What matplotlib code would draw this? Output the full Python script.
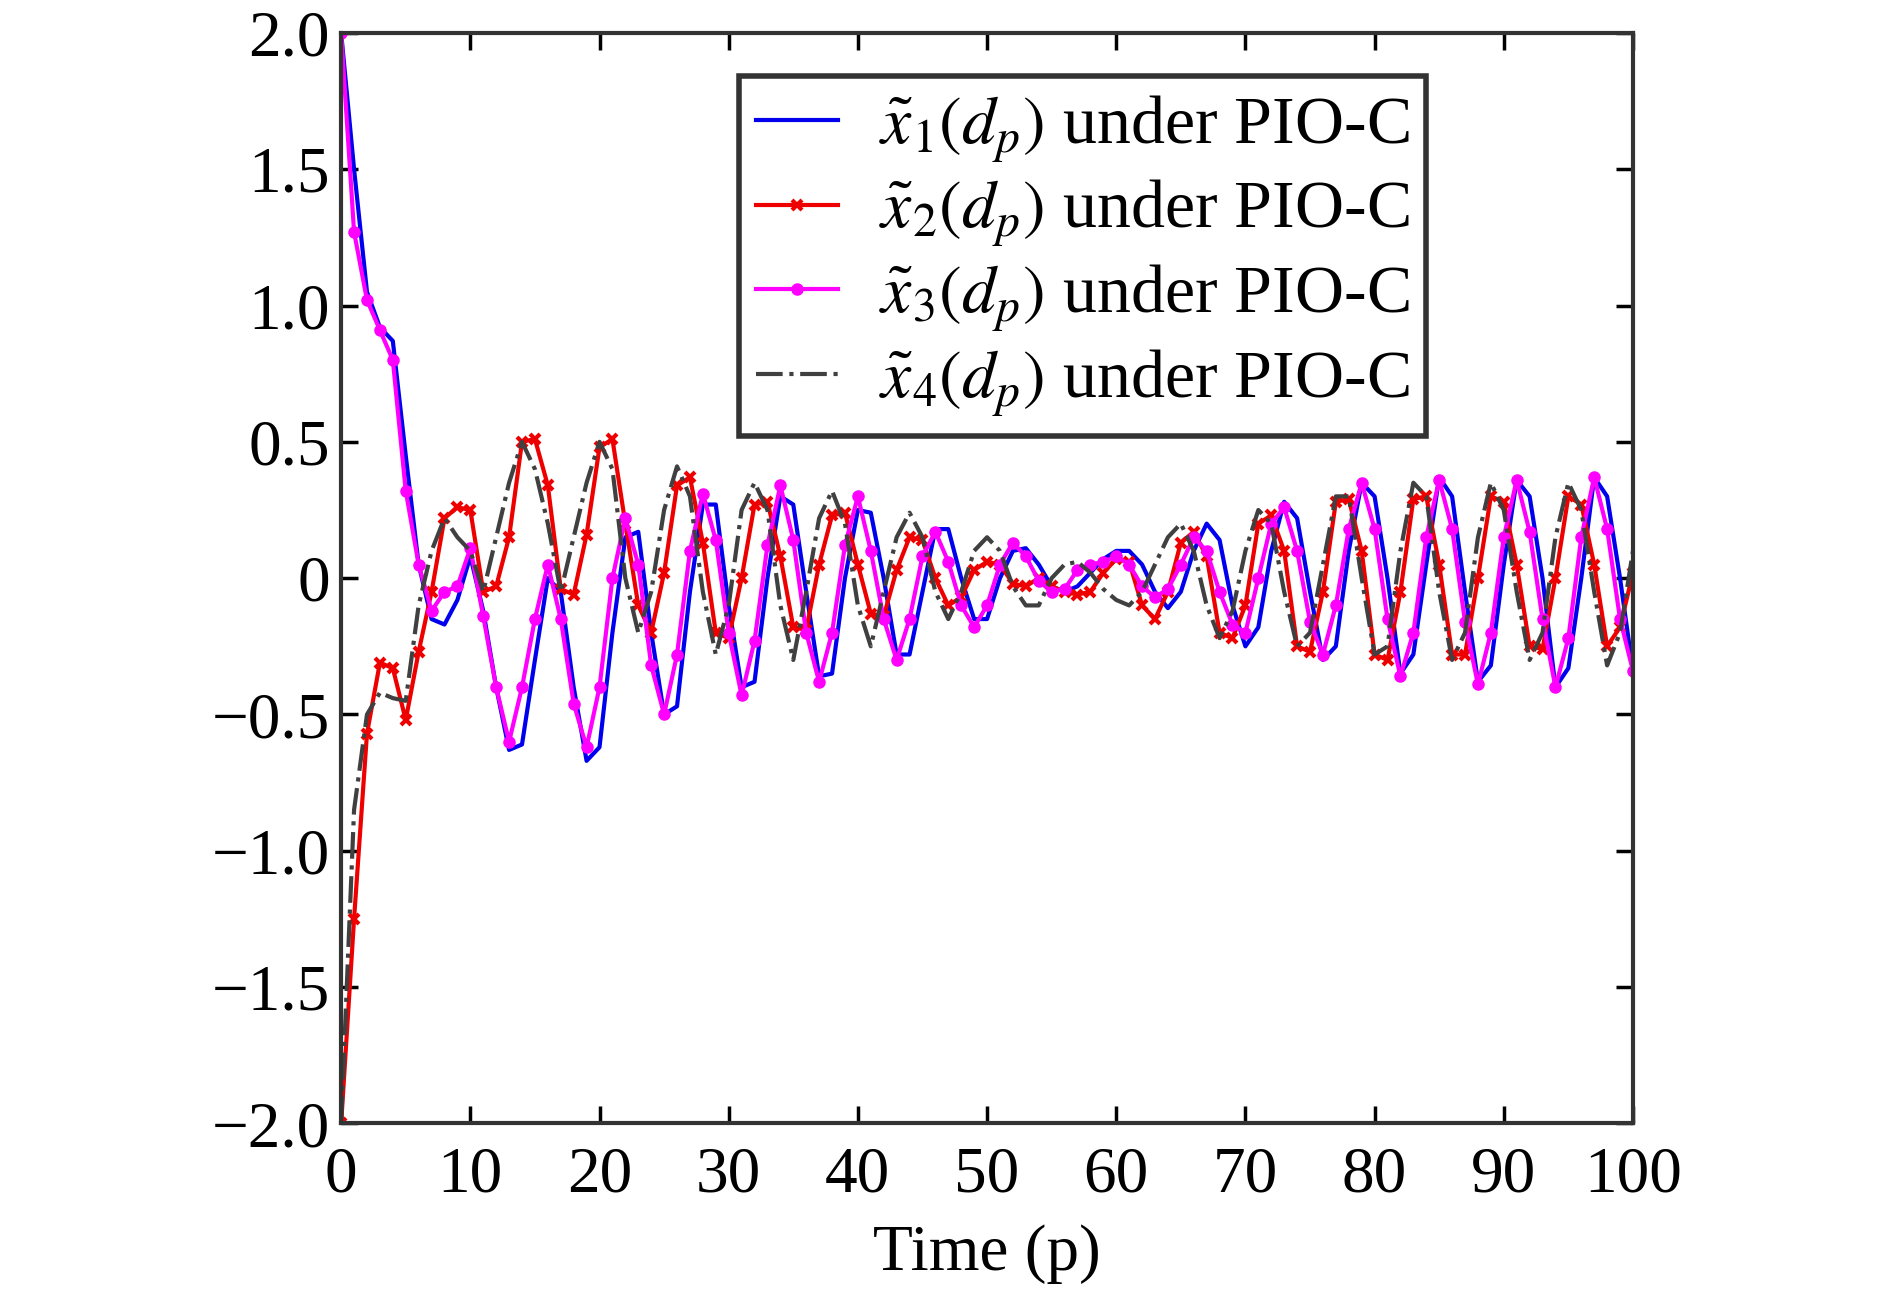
import numpy as np
import matplotlib.pyplot as plt

p = np.arange(0, 101)

x1 = [2.0, 1.5, 1.05, 0.92, 0.87, 0.45, 0.05, -0.15, -0.17, -0.08, 0.08, -0.12, -0.40, -0.63, -0.61, -0.30, 0.0, -0.05, -0.40, -0.67,
      -0.62, -0.20, 0.15, 0.17, -0.20, -0.50, -0.47, -0.05, 0.27, 0.27, -0.10, -0.40, -0.38, 0.0, 0.30, 0.27, -0.05, -0.36, -0.35, 0.0,
      0.25, 0.24, 0.0, -0.28, -0.28, -0.05, 0.18, 0.18, 0.0, -0.15, -0.15, 0.0, 0.10, 0.11, 0.05, -0.03, -0.05, -0.03, 0.02, 0.07,
      0.10, 0.10, 0.05, -0.05, -0.11, -0.05, 0.10, 0.20, 0.14, -0.10, -0.25, -0.18, 0.10, 0.28, 0.22, -0.05, -0.30, -0.25, 0.10, 0.35,
      0.30, 0.0, -0.35, -0.28, 0.05, 0.37, 0.30, -0.05, -0.38, -0.32, 0.05, 0.36, 0.30, 0.0, -0.40, -0.33, 0.0, 0.37, 0.30, 0.0, -0.34]
x2 = [-2.0, -1.25, -0.57, -0.31, -0.33, -0.52, -0.27, -0.05, 0.22, 0.26, 0.25, -0.05, -0.03, 0.15, 0.50, 0.51, 0.34, -0.04, -0.06, 0.16,
      0.48, 0.51, 0.20, -0.10, -0.20, 0.02, 0.34, 0.37, 0.13, -0.20, -0.22, 0.0, 0.27, 0.28, 0.08, -0.18, -0.19, 0.05, 0.23, 0.24,
      0.05, -0.13, -0.14, 0.03, 0.15, 0.14, 0.0, -0.10, -0.07, 0.03, 0.06, 0.05, -0.02, -0.03, 0.0, -0.03, -0.05, -0.06, -0.05, 0.02,
      0.07, 0.06, -0.10, -0.15, -0.05, 0.13, 0.17, 0.08, -0.20, -0.22, -0.10, 0.20, 0.23, 0.10, -0.25, -0.27, -0.05, 0.28, 0.29, 0.10,
      -0.28, -0.30, -0.05, 0.29, 0.30, 0.05, -0.28, -0.28, 0.0, 0.30, 0.28, 0.05, -0.25, -0.26, 0.0, 0.30, 0.27, 0.05, -0.25, -0.18, 0.02]
x3 = [2.0, 1.27, 1.02, 0.91, 0.80, 0.32, 0.05, -0.12, -0.05, -0.03, 0.11, -0.14, -0.40, -0.60, -0.40, -0.15, 0.05, -0.15, -0.46, -0.62,
      -0.40, 0.0, 0.22, 0.05, -0.32, -0.50, -0.28, 0.10, 0.31, 0.14, -0.20, -0.43, -0.23, 0.12, 0.34, 0.14, -0.20, -0.38, -0.20, 0.12,
      0.30, 0.10, -0.15, -0.30, -0.15, 0.08, 0.17, 0.06, -0.10, -0.18, -0.10, 0.05, 0.13, 0.08, -0.01, -0.05, -0.04, 0.03, 0.05, 0.06,
      0.08, 0.05, -0.03, -0.07, -0.04, 0.05, 0.15, 0.10, -0.05, -0.17, -0.20, 0.0, 0.20, 0.26, 0.10, -0.16, -0.28, -0.10, 0.18, 0.35,
      0.18, -0.15, -0.36, -0.20, 0.15, 0.36, 0.18, -0.16, -0.39, -0.20, 0.15, 0.36, 0.17, -0.15, -0.40, -0.22, 0.15, 0.37, 0.18, -0.15, -0.34]
x4 = [-2.0, -0.85, -0.50, -0.42, -0.44, -0.45, -0.10, 0.10, 0.22, 0.15, 0.10, -0.05, 0.15, 0.35, 0.50, 0.40, 0.20, -0.05, 0.15, 0.35,
      0.50, 0.40, 0.0, -0.20, -0.05, 0.25, 0.41, 0.30, -0.05, -0.28, -0.10, 0.25, 0.35, 0.25, -0.10, -0.30, -0.05, 0.22, 0.32, 0.20,
      -0.10, -0.25, -0.05, 0.15, 0.24, 0.15, -0.05, -0.15, -0.05, 0.10, 0.15, 0.10, -0.03, -0.10, -0.10, 0.0, 0.05, 0.06, 0.02, -0.04,
      -0.08, -0.10, -0.05, 0.05, 0.15, 0.20, 0.10, -0.10, -0.22, -0.12, 0.10, 0.25, 0.20, -0.05, -0.25, -0.20, 0.05, 0.30, 0.30, 0.0,
      -0.28, -0.25, 0.10, 0.35, 0.30, -0.05, -0.30, -0.20, 0.15, 0.35, 0.25, -0.05, -0.30, -0.20, 0.15, 0.35, 0.25, -0.05, -0.32, -0.20, 0.10]

plt.rcParams['font.family'] = 'Liberation Serif'
plt.rcParams['mathtext.fontset'] = 'stix'

fig = plt.figure(figsize=(18.9, 13.14), dpi=100)
ax = fig.add_axes([0.1805, 0.145, 0.6835, 0.83])

ax.plot(p, x1, color='#0000ee', lw=3, label=r'$\tilde{x}_1(d_p)$ under PIO-C')
ax.plot(p, x2, color='#ee0000', lw=3, marker='x', ms=7, mew=3, label=r'$\tilde{x}_2(d_p)$ under PIO-C')
ax.plot(p, x3, color='#ff00ff', lw=3, marker='o', ms=8, label=r'$\tilde{x}_3(d_p)$ under PIO-C')
ax.plot(p, x4, color='#404040', lw=3, ls='-.', label=r'$\tilde{x}_4(d_p)$ under PIO-C')

ax.set_xlim(0, 100)
ax.set_ylim(-2, 2)
ax.set_xticks(np.arange(0, 101, 10))
ax.set_yticks(np.arange(-2, 2.01, 0.5))
ax.set_yticklabels(['\u22122.0', '\u22121.5', '\u22121.0', '\u22120.5', '0', '0.5', '1.0', '1.5', '2.0'])
ax.tick_params(direction='in', length=12, width=2.5, labelsize=47, top=True, right=True)
ax.tick_params(axis='x', pad=16)
ax.tick_params(axis='y', pad=8)
for s in ax.spines.values():
    s.set_linewidth(3)
    s.set_color('#333333')
ax.set_xlabel('Time (p)', fontsize=47, labelpad=14)

leg = ax.legend(loc='upper right', bbox_to_anchor=(0.84, 0.96), fontsize=49, fancybox=False,
                framealpha=1, edgecolor='#333333', handlelength=1.2, handletextpad=0.6,
                borderpad=0.25, labelspacing=0.2, borderaxespad=0)
leg.get_frame().set_linewidth(4)

fig.savefig('out.png', dpi=100)
